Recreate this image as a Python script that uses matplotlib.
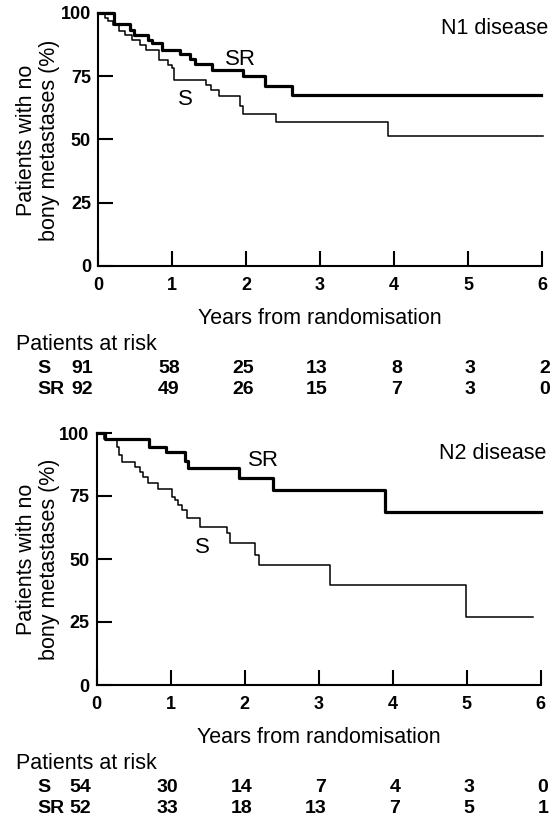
import matplotlib.pyplot as plt
from matplotlib.transforms import blended_transform_factory

plt.rcParams['font.family'] = ['Liberation Sans', 'DejaVu Sans']

years = [0, 1, 2, 3, 4, 5, 6]
pct_ticks = [0, 25, 50, 75, 100]

# N1 disease: step times (years) and % free of bony metastases after each step
n1_s_t = [0, 0.09, 0.14, 0.20, 0.29, 0.36, 0.455, 0.57, 0.65, 0.83, 0.94, 1.00,
          1.03, 1.46, 1.53, 1.64, 1.92, 1.96, 2.41, 3.92, 6.02]
n1_s_v = [100, 97.9, 96.6, 95.3, 92.7, 91.3, 89.3, 87.3, 85.4, 81.3, 79.4, 78.0,
          73.5, 71.5, 69.5, 67.0, 63.0, 60.0, 57.0, 51.2, 51.2]
n1_sr_t = [0, 0.21, 0.43, 0.48, 0.68, 0.73, 0.86, 1.11, 1.24, 1.31, 1.54, 1.96,
           2.26, 2.62, 5.99]
n1_sr_v = [100, 95.5, 93.2, 91.2, 89.2, 87.9, 85.3, 83.7, 81.6, 79.6, 77.4, 75.0,
           71.2, 67.5, 67.5]

# N2 disease
n2_s_t = [0, 0.10, 0.28, 0.30, 0.34, 0.52, 0.59, 0.63, 0.70, 0.835, 1.016, 1.06,
          1.105, 1.15, 1.22, 1.40, 1.76, 1.80, 2.14, 2.19, 3.15, 4.99, 5.90]
n2_s_v = [100, 97.5, 94.5, 91.3, 88.6, 86.6, 84.7, 82.7, 80.0, 77.6, 74.7, 73.4,
          71.4, 69.4, 66.1, 62.8, 60.2, 56.2, 51.6, 47.6, 39.7, 27.0, 27.0]
n2_sr_t = [0, 0.11, 0.71, 0.94, 1.20, 1.24, 1.92, 2.39, 3.90, 6.0]
n2_sr_v = [100, 97.5, 94.6, 92.3, 89.0, 86.2, 82.0, 77.4, 68.8, 68.8]

n1_risk_s = [91, 58, 25, 13, 8, 3, 2]
n1_risk_sr = [92, 49, 26, 15, 7, 3, 0]
n2_risk_s = [54, 30, 14, 7, 4, 3, 0]
n2_risk_sr = [52, 33, 18, 13, 7, 5, 1]

W, H = 554, 818
fig = plt.figure(figsize=(W / 100, H / 100), dpi=100)


def panel(rect, s_t, s_v, sr_t, sr_v, risk_s, risk_sr, title, title_y,
          sr_lab, s_lab, axis_px):
    ax = fig.add_axes(rect)
    ax.step(s_t, s_v, where='post', color='black', lw=1.1, clip_on=False)
    ax.step(sr_t, sr_v, where='post', color='black', lw=2.3, clip_on=False)
    ax.set_xlim(0, 6)
    ax.set_ylim(0, 100)
    ax.set_xticks(years)
    ax.set_yticks(pct_ticks)
    for side in ['top', 'right']:
        ax.spines[side].set_visible(False)
    for side in ['left', 'bottom']:
        ax.spines[side].set_linewidth(1.5)
    ax.tick_params(direction='in', length=10.5, width=1.5, labelsize=13)
    ax.tick_params(axis='x', pad=8)
    ax.tick_params(axis='y', pad=5)
    for lab in ax.get_xticklabels() + ax.get_yticklabels():
        lab.set_fontweight('bold')

    ax.text(6.08, title_y, title, ha='right', va='center', fontsize=15.5)
    ax.text(sr_lab[0], sr_lab[1], 'SR', ha='center', va='center', fontsize=16)
    ax.text(s_lab[0], s_lab[1], 'S', ha='center', va='center', fontsize=16)

    # y label, two lines
    cy = 1 - (axis_px - 126) / H
    fig.text(38 / W, cy, 'Patients with no\nbony metastases (%)', rotation=90,
             ha='center', va='center', fontsize=15.5, linespacing=1.15)

    tr = blended_transform_factory(ax.transData, fig.transFigure)
    fy = lambda px: 1 - px / H
    ax.text(3, fy(axis_px + 58), 'Years from randomisation', transform=tr,
            ha='center', va='baseline', fontsize=15.5)
    fig.text(16 / W, fy(axis_px + 84), 'Patients at risk', ha='left',
             va='baseline', fontsize=15.5)
    y_s, y_sr = fy(axis_px + 107), fy(axis_px + 128)
    fig.text(37 / W, y_s, 'S', ha='left', va='baseline',
             fontsize=14, fontweight='bold')
    fig.text(37 / W, y_sr, 'SR', ha='left', va='baseline',
             fontsize=14, fontweight='bold')
    col_x = [y + 0.105 for y in years]
    col_x[0] = -0.07
    for x, a, b in zip(col_x, risk_s, risk_sr):
        ax.text(x, y_s, str(a), transform=tr, ha='right',
                va='baseline', fontsize=14, fontweight='bold')
        ax.text(x, y_sr, str(b), transform=tr, ha='right',
                va='baseline', fontsize=14, fontweight='bold')
    return ax


panel([98 / W, (H - 266) / H, 444 / W, 253.3 / H],
      n1_s_t, n1_s_v, n1_sr_t, n1_sr_v, n1_risk_s, n1_risk_sr,
      'N1 disease', 93.7, (1.92, 81.4), (1.18, 65.6), 266)
panel([96.5 / W, (H - 685) / H, 444 / W, 252 / H],
      n2_s_t, n2_s_v, n2_sr_t, n2_sr_v, n2_risk_s, n2_risk_sr,
      'N2 disease', 91.9, (2.25, 88.9), (1.43, 54.5), 685)

fig.savefig('out.png', dpi=100)
